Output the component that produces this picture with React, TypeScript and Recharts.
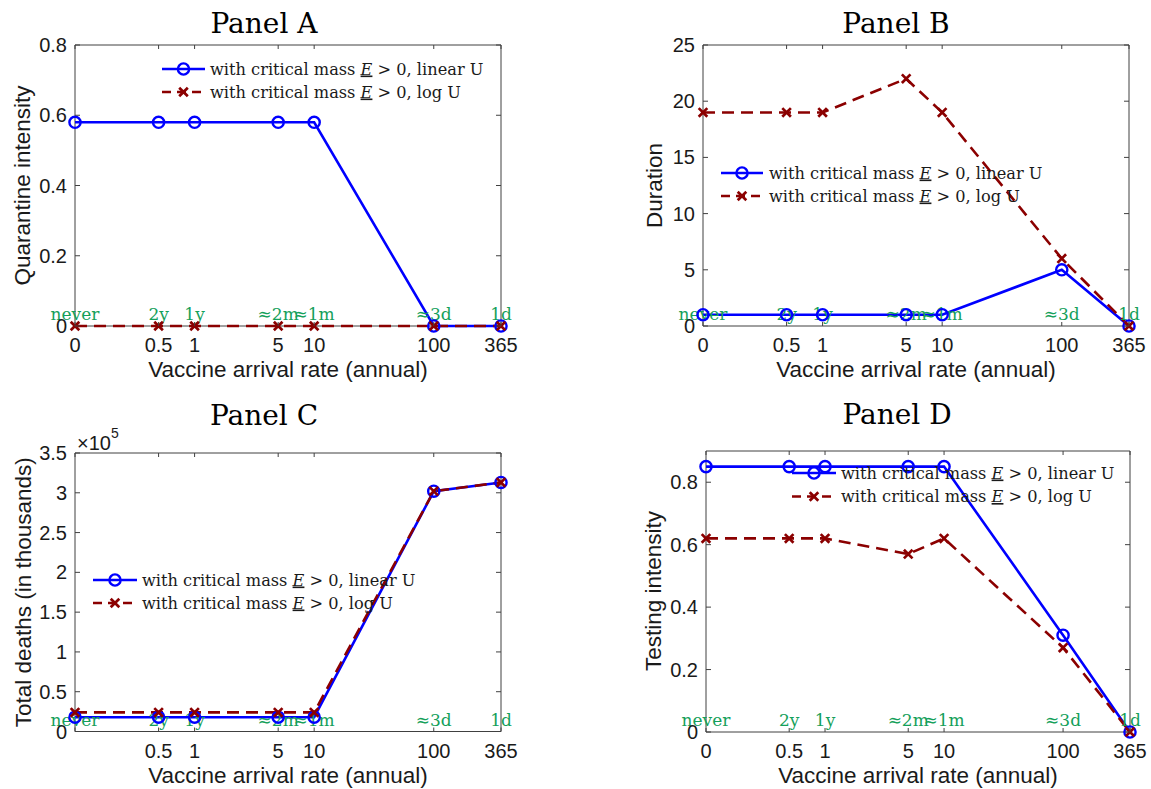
import React from 'react';
import { LineChart, Line, XAxis, YAxis, ReferenceArea, Legend } from 'recharts';

// ---------- data ----------
const rates = [0, 0.5, 1, 5, 10, 100, 365];
const rateTickLabels = ['0', '0.5', '1', '5', '10', '100', '365'];
const arrivalLabels = ['never', '2y', '1y', '≈2m', '≈1m', '≈3d', '1d'];
const ZERO_AT = 0.1; // "0" is drawn one decade left of 1 on the log axis

const quarantineLinear = [0.58, 0.58, 0.58, 0.58, 0.58, 0, 0];
const quarantineLog = [0, 0, 0, 0, 0, 0, 0];
const durationLinear = [1, 1, 1, 1, 1, 5, 0];
const durationLog = [19, 19, 19, 22, 19, 6, 0];
const deathsLinear = [18000, 18000, 18000, 18000, 18000, 302000, 313000];
const deathsLog = [24000, 24000, 24000, 24000, 24000, 302000, 313000];
const testingLinear = [0.85, 0.85, 0.85, 0.85, 0.85, 0.31, 0];
const testingLog = [0.62, 0.62, 0.62, 0.57, 0.62, 0.27, 0];

const quarantineTicks = [0, 0.2, 0.4, 0.6, 0.8];
const durationTicks = [0, 5, 10, 15, 20, 25];
const deathsTicks = [0, 50000, 100000, 150000, 200000, 250000, 300000, 350000];
const testingTicks = [0, 0.2, 0.4, 0.6, 0.8];

// ---------- style ----------
const BLUE = '#0000ff';
const RED = '#8b0000';
const GREEN = '#14a05a';
const AXIS = '#404040';
const TEXT = '#1a1a1a';
const SANS = '"Liberation Sans", Arial, Helvetica, sans-serif';
const SERIF = '"DejaVu Serif", serif';

const PAD_L = 80;
const PAD_T = 50;
const PAD_R = 30;
const PAD_B = 60;

const plotX = (r: number) => (r === 0 ? ZERO_AT : r);
const plotTicks = rates.map(plotX);

type Box = { left: number; top: number; right: number; bottom: number };
type LegendPos = { x0: number; x1: number; y1: number; y2: number; tx: number };
type PanelCfg = {
  box: Box;
  yDomain: [number, number];
  yTicks: number[];
  yFmt: (v: number) => string;
  lin: number[];
  log: number[];
  title: string;
  titleX: number;
  titleY: number;
  yLabel: string;
  yLabelX: number;
  legend: LegendPos;
  hideZeroTick?: boolean;
  exponent?: boolean;
};

const fmtPlain = (v: number) => String(Math.round(v * 100) / 100);
const fmtE5 = (v: number) => String(Math.round((v / 1e5) * 100) / 100);

const panels: PanelCfg[] = [
  {
    box: { left: 75, top: 45, right: 501, bottom: 326 },
    yDomain: [0, 0.8], yTicks: quarantineTicks, yFmt: fmtPlain,
    lin: quarantineLinear, log: quarantineLog,
    title: 'Panel A', titleX: 264, titleY: 33,
    yLabel: 'Quarantine intensity', yLabelX: 22,
    legend: { x0: 162, x1: 205, y1: 69, y2: 92, tx: 210 },
  },
  {
    box: { left: 703, top: 45, right: 1129, bottom: 326 },
    yDomain: [0, 25], yTicks: durationTicks, yFmt: fmtPlain,
    lin: durationLinear, log: durationLog,
    title: 'Panel B', titleX: 896, titleY: 33,
    yLabel: 'Duration', yLabelX: 654,
    legend: { x0: 721, x1: 763, y1: 173, y2: 196, tx: 769 },
  },
  {
    box: { left: 75, top: 453, right: 501, bottom: 731.5 },
    yDomain: [0, 350000], yTicks: deathsTicks, yFmt: fmtE5,
    lin: deathsLinear, log: deathsLog,
    title: 'Panel C', titleX: 264, titleY: 425,
    yLabel: 'Total deaths (in thousands)', yLabelX: 23,
    legend: { x0: 93, x1: 137, y1: 580, y2: 603, tx: 142 },
    hideZeroTick: true, exponent: true,
  },
  {
    box: { left: 706, top: 450.5, right: 1130, bottom: 731.5 },
    yDomain: [0, 0.9], yTicks: testingTicks, yFmt: fmtPlain,
    lin: testingLinear, log: testingLog,
    title: 'Panel D', titleX: 897, titleY: 424,
    yLabel: 'Testing intensity', yLabelX: 653,
    legend: { x0: 792, x1: 836, y1: 473, y2: 496.5, tx: 841 },
  },
];

const legendNames = ['linear U', 'log U'];

function LegendText({ x, y, tail }: { x: number; y: number; tail: string }) {
  return (
    <text x={x} y={y} fontFamily={SERIF} fontSize={16.2} fill={TEXT}>
      with critical mass{' '}
      <tspan fontStyle="italic" textDecoration="underline">E</tspan>
      {' > 0, ' + tail}
    </text>
  );
}

function Panel({ cfg }: { cfg: PanelCfg }) {
  const { box } = cfg;
  const w = box.right - box.left;
  const h = box.bottom - box.top;
  const ox = box.left - PAD_L;
  const oy = box.top - PAD_T;
  const width = w + PAD_L + PAD_R;
  const height = h + PAD_T + PAD_B;
  const data = rates.map((r, i) => ({ x: plotX(r), lin: cfg.lin[i], log: cfg.log[i] }));

  const xTick = (p: any) => {
    const { x, y, index } = p;
    const label = cfg.hideZeroTick && index === 0 ? '' : rateTickLabels[index];
    return (
      <g key={`xt${index}`}>
        <line x1={x} x2={x} y1={y} y2={y - 4} stroke={AXIS} strokeWidth={1} />
        <line x1={x} x2={x} y1={y - h} y2={y - h + 4} stroke={AXIS} strokeWidth={1} />
        <text x={x} y={y + 26} textAnchor="middle" fontFamily={SANS} fontSize={20} fill={TEXT}>
          {label}
        </text>
      </g>
    );
  };
  const yTick = (p: any) => {
    const { x, y, payload, index } = p;
    return (
      <g key={`yt${index}`}>
        <line x1={x} x2={x + 5} y1={y} y2={y} stroke={AXIS} strokeWidth={1} />
        <line x1={x + w} x2={x + w - 5} y1={y} y2={y} stroke={AXIS} strokeWidth={1} />
        <text x={x - 8} y={y + 7} textAnchor="end" fontFamily={SANS} fontSize={20} fill={TEXT}>
          {cfg.yFmt(payload.value)}
        </text>
      </g>
    );
  };

  const circleDot = (p: any) => (
    <circle key={`c${p.index}`} cx={p.cx} cy={p.cy} r={5.6} fill="none" stroke={BLUE} strokeWidth={2.4} />
  );
  const crossDot = (p: any) => {
    const s = 4.3;
    const { cx, cy } = p;
    return (
      <path
        key={`x${p.index}`}
        d={`M${cx - s},${cy - s}L${cx + s},${cy + s}M${cx - s},${cy + s}L${cx + s},${cy - s}`}
        stroke={RED}
        strokeWidth={2.7}
        strokeDasharray="none"
        fill="none"
      />
    );
  };
  const greenDot = (p: any) => (
    <text
      key={`g${p.index}`}
      x={p.cx}
      y={p.cy - 6}
      textAnchor="middle"
      fontFamily={SERIF}
      fontSize={17}
      fill={GREEN}
    >
      {arrivalLabels[p.index]}
    </text>
  );

  const lg = cfg.legend;
  const lgLeft = lg.x0 - 5;
  const lgTop = lg.y1 - 15;
  const legendContent = () => {
    const r1 = lg.y1 - lgTop;
    const r2 = lg.y2 - lgTop;
    const a = lg.x0 - lgLeft;
    const b = lg.x1 - lgLeft;
    const m = (a + b) / 2;
    const t = lg.tx - lgLeft;
    const s = 4.3;
    return (
      <svg width={360} height={50} style={{ display: 'block', overflow: 'visible' }}>
        <line x1={a} x2={b} y1={r1} y2={r1} stroke={BLUE} strokeWidth={2.6} />
        <circle cx={m} cy={r1} r={5.6} fill="none" stroke={BLUE} strokeWidth={2.4} />
        <LegendText x={t} y={r1 + 5.5} tail={legendNames[0]} />
        <line x1={a} x2={b} y1={r2} y2={r2} stroke={RED} strokeWidth={2.6} strokeDasharray="9 6" />
        <path
          d={`M${m - s},${r2 - s}L${m + s},${r2 + s}M${m - s},${r2 + s}L${m + s},${r2 - s}`}
          stroke={RED}
          strokeWidth={2.7}
          fill="none"
        />
        <LegendText x={t} y={r2 + 5.5} tail={legendNames[1]} />
      </svg>
    );
  };

  return (
    <div style={{ position: 'absolute', left: ox, top: oy, width, height }}>
      <LineChart width={width} height={height} data={data} margin={{ top: PAD_T, right: PAD_R, left: 0, bottom: 0 }}>
        <XAxis
          dataKey="x"
          type="number"
          scale="log"
          domain={[ZERO_AT, 365]}
          ticks={plotTicks}
          interval={0}
          tickSize={0}
          tickMargin={0}
          axisLine={false}
          tickLine={false}
          height={PAD_B}
          tick={xTick}
        />
        <YAxis
          type="number"
          domain={cfg.yDomain}
          ticks={cfg.yTicks}
          interval={0}
          width={PAD_L}
          tickSize={0}
          tickMargin={0}
          axisLine={false}
          tickLine={false}
          tick={yTick}
        />
        <ReferenceArea
          x1={ZERO_AT}
          x2={365}
          y1={cfg.yDomain[0]}
          y2={cfg.yDomain[1]}
          fill="none"
          fillOpacity={0}
          stroke={AXIS}
          strokeWidth={1}
        />
        <Line
          dataKey={() => 0}
          name="labels"
          stroke="none"
          dot={greenDot}
          activeDot={false}
          legendType="none"
          isAnimationActive={false}
        />
        <Line
          dataKey="lin"
          name={legendNames[0]}
          stroke={BLUE}
          strokeWidth={2.6}
          dot={circleDot}
          activeDot={false}
          isAnimationActive={false}
        />
        <Line
          dataKey="log"
          name={legendNames[1]}
          stroke={RED}
          strokeWidth={2.6}
          strokeDasharray="12 7"
          dot={crossDot}
          activeDot={false}
          isAnimationActive={false}
        />
        <Legend
          layout="horizontal"
          align="center"
          verticalAlign="middle"
          content={legendContent}
          wrapperStyle={{ left: lgLeft - ox, top: lgTop - oy, width: 360, height: 50 }}
        />
      </LineChart>
    </div>
  );
}

function Decorations() {
  return (
    <svg
      width={1151}
      height={789}
      style={{ position: 'absolute', left: 0, top: 0, pointerEvents: 'none' }}
    >
      {panels.map((cfg, i) => {
        const { box } = cfg;
        const cx = (box.left + box.right) / 2;
        const cy = (box.top + box.bottom) / 2;
        return (
          <g key={i}>
            <text x={cfg.titleX} y={cfg.titleY} textAnchor="middle" fontFamily={SERIF} fontSize={28} fill="#000">
              {cfg.title}
            </text>
            <text x={cx} y={box.bottom + 51} textAnchor="middle" fontFamily={SANS} fontSize={22.5} fill={TEXT}>
              Vaccine arrival rate (annual)
            </text>
            <text
              x={cfg.yLabelX}
              y={cy}
              textAnchor="middle"
              dominantBaseline="central"
              fontFamily={SANS}
              fontSize={22.5}
              fill={TEXT}
              transform={`rotate(-90 ${cfg.yLabelX} ${cy})`}
            >
              {cfg.yLabel}
            </text>
            {cfg.exponent ? (
              <text x={box.left + 2} y={box.top - 3} fontFamily={SANS} fontSize={20} fill={TEXT}>
                ×10
                <tspan fontSize={14} dy={-12}>5</tspan>
              </text>
            ) : null}
          </g>
        );
      })}
    </svg>
  );
}

export default function App() {
  return (
    <div style={{ position: 'absolute', left: 0, top: 0, width: 1151, height: 789, background: '#fff' }}>
      {panels.map((cfg, i) => (
        <Panel key={i} cfg={cfg} />
      ))}
      <Decorations />
    </div>
  );
}
